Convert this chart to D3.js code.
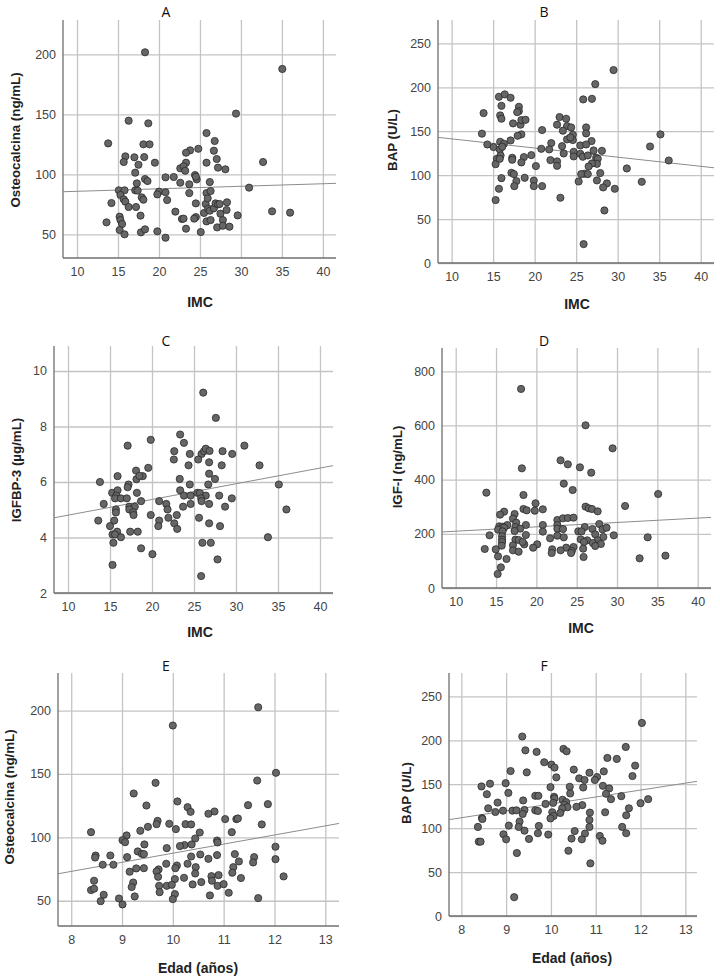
<!DOCTYPE html>
<html>
<head>
<meta charset="utf-8">
<script src="https://d3js.org/d3.v7.min.js"></script>
<style>
  body { margin: 0; background: #fff; }
  .tick text { font-family: "Liberation Sans", Arial, sans-serif; font-size: 12.5px; fill: #444; }
</style>
</head>
<body>
<div id="chart"></div>
<script>
// IMC vs osteocalcina (panel A)
var imcOsteo = [[18.3,201.7],[35.05,187.8],[29.4,150.6],[16.3,144.7],[18.7,142.5],[13.8,125.8],[18.1,125],[18.85,125],[25.8,134.4],[26.8,127.8],[15.9,115],[17.0,114.2],[18.2,114.4],[15.7,110.3],[17.5,108],[17.1,101.4],[19.5,109.7],[25.8,109.7],[23.3,109.7],[23.8,120],[23.3,118],[24.8,121.3],[26.7,119.7],[27.05,112.8],[27.2,105.6],[28.1,104.2],[32.7,110.3],[22.6,105],[23.0,106.7],[23.2,103],[24.4,99.4],[24.6,95.8],[24.5,98],[20.8,97.5],[21.8,97.8],[22.6,93],[23.7,91.7],[26.2,93.6],[17.3,92.5],[18.3,96.1],[18.6,94.4],[15.1,86.7],[15.8,86.7],[17.1,86.7],[20.0,85.6],[20.8,85],[23.7,84.4],[25.8,84.4],[26.3,86.1],[31.0,88.9],[15.3,82.8],[15.7,79.2],[15.9,77.2],[16.3,72.8],[14.2,76.1],[17.9,80.8],[18.1,78.9],[19.8,83.3],[21.0,78.6],[17.2,72.8],[17.75,65.6],[15.2,64.7],[15.3,61.9],[15.5,58.6],[13.6,60],[15.2,53.6],[15.8,50],[17.8,51.7],[18.3,54.2],[19.8,52.5],[20.8,47.2],[22.0,68.9],[22.8,62.8],[23.0,63.1],[23.3,54.7],[24.5,75.8],[24.5,64.4],[24.3,63.1],[25.1,51.9],[25.5,67.8],[25.7,75.3],[25.95,80],[25.8,60.8],[26.3,61.9],[26.0,71.4],[26.2,69.7],[26.7,71.7],[26.9,75.8],[27.2,75],[27.4,75.3],[27.5,67.2],[27.8,61.9],[27.1,55.8],[27.8,57.2],[28.6,56.4],[28.3,76.7],[28.25,70.3],[29.6,65.8],[33.8,69.2],[36.0,68.1],[17.4,86.4]];

// IMC vs BAP (panel B)
var imcBap = [[29.5,219.6],[27.3,203.6],[25.85,186.2],[26.9,186.9],[15.7,189.2],[16.4,191.9],[17.1,188.1],[16.0,178.9],[18.1,177.8],[18.1,172.9],[17.9,171.7],[13.85,170.6],[15.85,168],[16.0,164.2],[17.4,158.9],[18.3,157.4],[18.4,162.7],[18.9,163],[13.65,147.2],[18.4,146.4],[17.95,144.8],[20.9,151.3],[23.0,166.1],[23.8,164.2],[22.7,157.4],[23.9,155.9],[24.4,154.3],[26.2,154.3],[23.4,150.6],[24.6,146],[26.2,147.5],[23.9,140.7],[24.6,139.9],[26.85,138.8],[35.15,146.4],[33.9,132.6],[14.3,134.9],[15.05,131.9],[15.85,138],[16.3,135.7],[17.1,139.5],[15.8,129.3],[16.1,132.3],[20.8,130],[22.0,136.5],[21.75,129.3],[23.3,133],[25.5,133.8],[26.2,134.9],[27.1,128.1],[28.1,127.7],[23.5,124.7],[24.7,126.6],[24.7,121.3],[25.5,124.3],[25.8,120.9],[26.4,122.4],[27.4,119.8],[27.6,118.6],[27.5,112.9],[26.9,113.3],[26.5,109.9],[26.0,101.6],[25.6,101.2],[26.4,101.2],[27.9,102.4],[15.9,122.4],[15.45,118.6],[15.3,112.5],[15.8,118.6],[17.3,119.8],[17.3,117.5],[18.7,120.5],[19.6,122.8],[18.4,114.5],[21.9,117.1],[22.7,115.6],[22.7,110.6],[20.15,110.3],[31.1,107.6],[36.15,116.7],[16.0,96.6],[17.2,102.7],[17.5,101.2],[17.8,93.2],[18.8,97],[19.9,93.9],[17.55,87.5],[19.9,87.5],[20.9,87.5],[15.7,84.5],[15.3,71.6],[23.1,74.3],[25.3,92.8],[27.5,94],[28.7,90.6],[28.25,86],[29.65,84.5],[32.9,92.4],[28.4,59.8],[25.9,21.5],[24.3,142.9]];

// IMC vs IGFBP-3 (panel C)
var imcIgfbp = [[26.1,9.22],[27.6,8.31],[23.35,7.71],[23.8,7.41],[19.85,7.52],[17.1,7.31],[31.0,7.31],[22.65,7.11],[24.5,7.01],[25.9,7.01],[26.2,7.11],[26.4,7.2],[26.85,7.12],[28.4,7.11],[29.55,7.01],[22.6,6.81],[25.5,6.81],[26.8,6.71],[24.35,6.6],[28.3,6.6],[32.8,6.6],[19.55,6.51],[18.1,6.41],[26.8,6.3],[15.9,6.21],[18.9,6.21],[18.15,6.1],[18.5,6.22],[27.5,6.11],[23.3,6.11],[13.8,6.0],[17.2,5.91],[17.1,5.81],[24.5,5.91],[26.7,5.91],[35.1,5.91],[15.25,5.61],[15.9,5.7],[18.2,5.61],[23.35,5.7],[15.75,5.51],[23.8,5.51],[24.6,5.51],[25.4,5.61],[25.7,5.6],[26.4,5.51],[28.0,5.51],[15.6,5.41],[16.3,5.41],[17.0,5.41],[25.85,5.41],[29.5,5.41],[14.25,5.21],[18.7,5.31],[20.85,5.31],[21.7,5.21],[24.6,5.21],[26.8,5.21],[25.9,5.31],[17.3,5.11],[17.95,5.11],[28.7,5.11],[23.7,5.11],[15.7,5.01],[17.3,5.01],[21.85,5.01],[36.0,5.01],[15.7,4.9],[17.75,4.91],[17.8,4.81],[19.85,4.81],[22.95,4.81],[13.6,4.61],[15.5,4.61],[20.85,4.61],[21.95,4.71],[25.6,4.71],[26.8,4.51],[22.65,4.51],[15.0,4.41],[20.75,4.41],[28.1,4.41],[23.0,4.31],[15.85,4.21],[17.4,4.21],[18.3,4.21],[15.3,4.11],[15.6,4.11],[16.3,4.01],[33.8,4.01],[15.4,3.81],[26.0,3.81],[27.0,3.81],[18.7,3.61],[20.05,3.4],[27.8,3.21],[15.3,3.01],[25.85,2.61]];

// IMC vs IGF-I (panel D)
var imcIgf = [[18.1,734.8],[26.1,600.6],[29.45,515.7],[23.0,471.4],[23.9,456.6],[25.4,445.5],[18.2,441.8],[26.8,425.8],[23.4,385.2],[24.5,361.8],[13.8,352],[35.1,347],[18.4,343.4],[19.9,312.6],[31.0,302.8],[26.1,300.3],[26.5,294.2],[26.9,291.7],[27.6,283],[18.4,291.7],[18.8,286.8],[19.8,285.5],[20.8,290.5],[16.0,281.8],[15.5,270.8],[17.3,273.2],[17.1,256],[22.6,251],[23.3,257.2],[23.9,258.5],[24.6,259.7],[17.5,241.2],[16.4,232.6],[18.7,232.6],[20.8,232.6],[22.6,232.6],[27.8,236.3],[15.4,227.7],[15.8,226.5],[16.0,222.8],[17.4,225.2],[17.99,219],[26.0,225.2],[22.6,219],[23.3,217.8],[26.95,217.8],[28.2,216.6],[28.7,222.8],[15.25,215.4],[15.8,209.2],[17.3,210.5],[20.8,208],[25.2,209.2],[25.6,209.2],[27.3,198.2],[14.2,194.5],[18.7,195.7],[22.6,193.2],[23.4,187.1],[15.75,190.8],[21.7,183.4],[28.3,188.3],[29.6,194.5],[33.8,187.1],[15.75,178.5],[17.4,178.5],[17.8,177.2],[25.5,179.7],[26.3,176],[27.6,176],[15.75,169.8],[18.5,161.2],[17.1,157.5],[18.3,169.8],[25.9,169.8],[27.0,166.2],[28.0,162.5],[27.3,155.1],[15.7,156.3],[20.1,161.2],[19.6,148.9],[23.7,148.9],[24.6,151.4],[25.8,145.2],[13.6,144],[14.96,142.8],[17.1,139.1],[17.8,134.2],[21.96,142.8],[23.0,139.1],[24.4,136.6],[21.9,129.2],[24.3,129.2],[25.85,114.5],[15.25,116.9],[16.3,107.1],[32.8,109.5],[36.0,119.4],[15.6,76.3],[15.2,51.7]];

// Edad vs osteocalcina (panel E)
var edadOsteo = [[11.68,202.6],[10.0,188.2],[12.03,150.9],[11.66,144.8],[9.66,143],[9.23,134.6],[10.09,128.3],[9.48,125.1],[11.48,125.4],[11.87,126.2],[10.29,123.8],[10.35,120.1],[10.82,120.4],[10.7,118.6],[9.7,113],[9.68,110.4],[9.93,110.7],[10.25,110.4],[10.36,110.2],[11.03,114.4],[11.25,114.4],[11.28,114.9],[11.75,110.2],[8.39,104.1],[10.06,106.5],[9.51,108.3],[9.36,105.2],[10.53,103.8],[11.16,104.1],[9.09,101.5],[9.01,97.8],[9.06,96.2],[10.44,99.1],[10.87,97.5],[10.88,96],[9.44,94.4],[10.23,93.9],[10.37,94.4],[10.14,93.1],[9.88,91.5],[12.02,92.6],[9.31,88.9],[9.39,87],[9.43,86.8],[8.48,85.7],[8.77,85.7],[8.47,84.1],[9.1,84.4],[10.36,84.9],[10.54,86.5],[10.7,83.1],[10.87,86],[11.22,86.8],[11.3,81],[11.6,84.4],[12.02,82.8],[8.62,78.4],[8.83,78.4],[9.87,79.2],[10.08,77.8],[10.05,75.7],[10.29,79.2],[10.45,76.5],[9.28,75.5],[9.43,75.7],[9.72,74.7],[9.68,73.1],[9.15,72.9],[11.19,76.5],[11.58,80.2],[10.44,71.5],[11.17,72.1],[9.71,68.9],[10.04,67.1],[10.22,68.1],[10.76,69.4],[10.9,70.2],[11.34,67.9],[12.18,69.2],[8.45,65.8],[9.22,64.4],[10.77,65.8],[10.56,64.7],[8.39,58.4],[8.45,59.5],[9.19,60.8],[9.73,61.8],[9.88,61.8],[9.98,62.6],[10.39,62.9],[10.88,61.8],[11.0,63.1],[9.74,56.8],[11.1,56.3],[10.73,54.2],[8.64,54.7],[9.25,53.4],[10.04,55.3],[8.58,49.7],[8.94,51.8],[10.0,51.3],[11.68,52.1],[9.01,47.1]];

// Edad vs BAP (panel F)
var edadBap = [[12.03,219.8],[9.36,204.3],[11.67,192.4],[10.28,190.2],[10.35,187.5],[9.43,188.6],[9.68,186.8],[11.26,179.9],[11.47,178.8],[9.85,175],[10.01,172.3],[10.08,168.9],[11.88,171.2],[9.1,165],[9.46,163.5],[10.51,166.6],[10.86,163.1],[11.18,164.6],[10.12,157.8],[10.63,156.7],[10.75,154.8],[11.03,158.2],[10.98,154.8],[11.82,159.3],[8.45,147.5],[8.64,150.6],[8.99,151.2],[9.99,146.7],[10.42,147.1],[10.72,146.3],[11.16,148.2],[11.3,145.2],[8.57,138.6],[9.05,140.1],[10.43,139.5],[11.23,139.1],[9.65,136.8],[9.72,136.8],[10.07,135.7],[10.08,133.8],[11.57,136.4],[11.34,133],[12.17,133],[9.38,131.5],[10.26,132.3],[10.34,129.6],[8.6,122.6],[8.81,129.1],[9.88,127.6],[10.05,128.8],[10.3,126.6],[10.7,126.2],[10.37,123.9],[10.25,122.4],[10.57,124.3],[12.0,128.4],[11.74,122.6],[8.76,118.4],[8.93,119.9],[9.14,119.9],[9.23,120.3],[9.41,120.7],[9.65,120.3],[9.71,119.5],[10.03,118.1],[10.21,117.3],[10.87,117.7],[11.21,118.1],[10.06,113.8],[9.99,111.1],[9.37,116.1],[11.68,114.6],[8.46,111.5],[8.47,110.4],[9.3,107.5],[10.86,109.4],[8.37,101.4],[9.06,102.9],[9.28,101.4],[9.73,102.5],[10.86,101.4],[11.59,101.4],[10.53,96.7],[9.41,97.1],[8.94,93],[9.71,94.2],[9.94,92.7],[10.76,93.8],[11.68,94.2],[11.09,91.1],[9.0,87.3],[9.51,87.7],[10.46,88.1],[10.69,87.3],[11.15,85.7],[8.39,84.6],[8.43,84.6],[10.39,74.3],[9.24,71.7],[10.88,59.9],[9.18,21.4]];

// fitted lines: [intercept, slope]
var fitLines = [[83.76, 0.21], [151.7, -1.041], [4.238, 0.0566], [193.4, 1.616], [15.7, 7.18], [48.8, 7.88]];

var panelTitles = ["A", "B", "C", "D", "E", "F"];
var yLabels = ["Osteocalcina (ng/mL)", "BAP (U/L)", "IGFBP-3 (\u00b5g/mL)", "IGF-I (ng/mL)", "Osteocalcina (ng/mL)", "BAP (U/L)"];
var xLabels = ["IMC", "IMC", "IMC", "IMC", "Edad (a\u00f1os)", "Edad (a\u00f1os)"];
var imcTicks = [10, 15, 20, 25, 30, 35, 40];
var edadTicks = [8, 9, 10, 11, 12, 13];
var yTicks = [[50, 100, 150, 200], [0, 50, 100, 150, 200, 250], [2, 4, 6, 8, 10], [0, 200, 400, 600, 800], [50, 100, 150, 200], [0, 50, 100, 150, 200, 250]];

var panels = [
  { data: imcOsteo, box: [63, 336, 20, 258],  xd: [8.29, 41.6], yd: [30.3, 228.6], xt: imcTicks, title: [166, 12], xl: [200, 302], yl: [15, 140] },
  { data: imcBap,   box: [438, 714, 20, 263], xd: [8.36, 41.6], yd: [0, 276.6],    xt: imcTicks, title: [544, 12], xl: [577, 304], yl: [392, 140] },
  { data: imcIgfbp, box: [54, 333, 346, 593], xd: [8.33, 41.55], yd: [2, 10.9],    xt: imcTicks, title: [166, 341], xl: [200, 632], yl: [16, 470] },
  { data: imcIgf,   box: [442, 711, 348, 588], xd: [8.3, 41.65], yd: [0, 886],     xt: imcTicks, title: [544, 341], xl: [581, 628], yl: [397, 467] },
  { data: edadOsteo, box: [58, 339, 673, 926], xd: [7.74, 13.27], yd: [30.1, 229.6], xt: edadTicks, title: [166, 666], xl: [198, 968], yl: [9, 797] },
  { data: edadBap,  box: [449, 697, 673, 916], xd: [7.725, 13.26], yd: [0, 276.6],  xt: edadTicks, title: [544, 666], xl: [572, 958], yl: [406, 793] }
];

var svg = d3.select("#chart").append("svg")
  .attr("width", 720)
  .attr("height", 979);

panels.forEach(function(p, i) {
  var left = p.box[0], right = p.box[1], top = p.box[2], bottom = p.box[3];
  var x = d3.scaleLinear().domain(p.xd).range([left, right]);
  var y = d3.scaleLinear().domain(p.yd).range([bottom, top]);
  var g = svg.append("g");

  // grid + tick labels
  var yAxis = g.append("g")
    .attr("transform", "translate(" + left + ",0)")
    .call(d3.axisLeft(y).tickValues(yTicks[i]).tickFormat(d3.format("d"))
      .tickSizeInner(-(right - left)).tickSizeOuter(0).tickPadding(7));
  var xAxis = g.append("g")
    .attr("transform", "translate(0," + bottom + ")")
    .call(d3.axisBottom(x).tickValues(p.xt).tickFormat(d3.format("d"))
      .tickSizeInner(-(bottom - top)).tickSizeOuter(0).tickPadding(9));
  [xAxis, yAxis].forEach(function(a) {
    a.select(".domain").remove();
    a.selectAll(".tick line").attr("stroke", "#c4c4c4").attr("stroke-width", 1.3);
  });

  // axis lines
  g.append("line").attr("x1", left).attr("x2", left).attr("y1", top).attr("y2", bottom)
    .attr("stroke", "#6f6f6f").attr("stroke-width", 1.3);
  g.append("line").attr("x1", left).attr("x2", right).attr("y1", bottom).attr("y2", bottom)
    .attr("stroke", "#6f6f6f").attr("stroke-width", 1.3);

  // fitted line
  var f = fitLines[i];
  g.append("line")
    .attr("x1", x(p.xd[0])).attr("y1", y(f[0] + f[1] * p.xd[0]))
    .attr("x2", x(p.xd[1])).attr("y2", y(f[0] + f[1] * p.xd[1]))
    .attr("stroke", "#8c8c8c").attr("stroke-width", 1);

  // points
  g.selectAll("circle.pt").data(p.data).enter().append("circle")
    .attr("class", "pt")
    .attr("cx", function(d) { return x(d[0]); })
    .attr("cy", function(d) { return y(d[1]); })
    .attr("r", 3.6)
    .attr("fill", "#666")
    .attr("stroke", "#2a2a2a")
    .attr("stroke-width", 0.8);

  // title
  g.append("text")
    .attr("x", p.title[0]).attr("y", p.title[1])
    .attr("text-anchor", "middle").attr("dy", "0.35em")
    .style("font-family", "'Open Sans', 'Liberation Sans', sans-serif")
    .style("font-size", "14px").style("fill", "#111")
    .text(panelTitles[i]);

  // x label
  g.append("text")
    .attr("x", p.xl[0]).attr("y", p.xl[1])
    .attr("text-anchor", "middle").attr("dy", "0.35em")
    .style("font-family", "'Liberation Sans', Arial, sans-serif")
    .style("font-size", "14px").style("font-weight", "bold").style("fill", "#222")
    .text(xLabels[i]);

  // y label
  g.append("text")
    .attr("transform", "translate(" + p.yl[0] + "," + p.yl[1] + ") rotate(-90)")
    .attr("text-anchor", "middle").attr("dy", "0.35em")
    .style("font-family", "'Liberation Sans', Arial, sans-serif")
    .style("font-size", "13.3px").style("font-weight", "bold").style("fill", "#222")
    .text(yLabels[i]);
});
</script>
</body>
</html>
